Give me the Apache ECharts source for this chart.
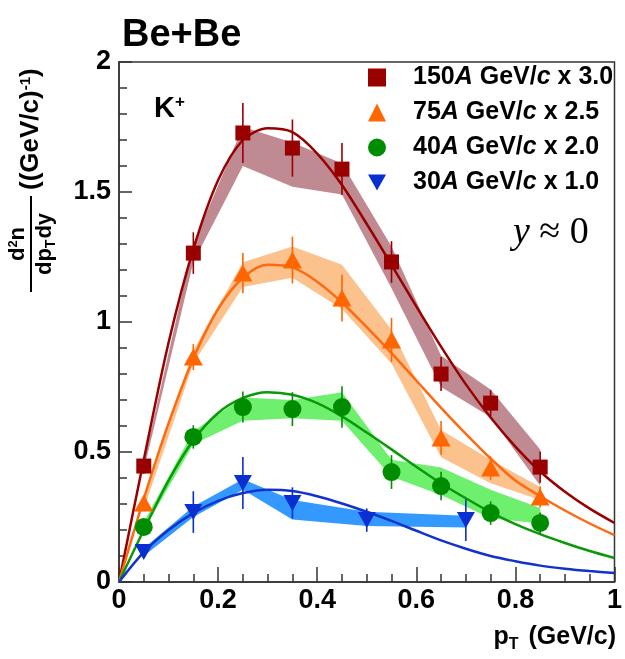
<!DOCTYPE html>
<html><head><meta charset="utf-8">
<script src="https://cdn.jsdelivr.net/npm/echarts@6/dist/echarts.min.js"></script>
<style>html,body{margin:0;padding:0;background:#fff}#c{width:625px;height:659px}</style>
</head><body><div id="c"></div>
<script>
// ---- data ----
const xPts = [0.05, 0.15, 0.25, 0.35, 0.45, 0.55, 0.65, 0.75, 0.85];
const xPts30 = [0.05, 0.15, 0.25, 0.35, 0.5, 0.7];

const y150 = [0.446, 1.265, 1.727, 1.669, 1.588, 1.231, 0.80, 0.688, 0.442];
const err150 = [0.03, 0.08, 0.115, 0.11, 0.10, 0.08, 0.065, 0.05, 0.06];
const sysLo150 = [0.43, 1.23, 1.60, 1.52, 1.49, 1.13, 0.75, 0.635, 0.37];
const sysHi150 = [0.46, 1.30, 1.75, 1.69, 1.61, 1.29, 0.87, 0.74, 0.51];

const y75 = [0.304, 0.865, 1.188, 1.238, 1.092, 0.931, 0.554, 0.438, 0.327];
const err75 = [0.02, 0.05, 0.077, 0.09, 0.09, 0.085, 0.065, 0.045, 0.04];
const sysLo75 = [0.28, 0.84, 1.135, 1.17, 1.05, 0.84, 0.48, 0.38, 0.315];
const sysHi75 = [0.32, 0.89, 1.23, 1.29, 1.22, 0.97, 0.585, 0.47, 0.365];

const y40 = [0.212, 0.558, 0.673, 0.665, 0.673, 0.423, 0.369, 0.265, 0.227];
const err40 = [0.02, 0.045, 0.06, 0.065, 0.08, 0.065, 0.055, 0.045, 0.04];
const sysLo40 = [0.20, 0.53, 0.62, 0.63, 0.62, 0.405, 0.335, 0.245, 0.225];
const sysHi40 = [0.23, 0.58, 0.71, 0.70, 0.73, 0.47, 0.44, 0.355, 0.285];

const y30 = [0.115, 0.269, 0.381, 0.304, 0.238, 0.238];
const err30 = [0.02, 0.08, 0.10, 0.06, 0.045, 0.08];
const sysLo30 = [0.10, 0.25, 0.355, 0.24, 0.215, 0.21];
const sysHi30 = [0.13, 0.29, 0.395, 0.315, 0.27, 0.255];

const xFit = [0, 0.05, 0.1, 0.15, 0.2, 0.25, 0.3, 0.35, 0.4, 0.45, 0.5, 0.55, 0.6, 0.65, 0.7, 0.75, 0.8, 0.85, 0.9, 0.95, 1.0];
const fit150 = [0, 0.47, 0.92, 1.28, 1.545, 1.70, 1.745, 1.73, 1.648, 1.527, 1.377, 1.22, 1.06, 0.905, 0.76, 0.633, 0.521, 0.425, 0.347, 0.282, 0.227];
const fit75 = [0, 0.32, 0.61, 0.86, 1.05, 1.17, 1.22, 1.21, 1.155, 1.075, 0.98, 0.88, 0.775, 0.67, 0.57, 0.475, 0.39, 0.33, 0.275, 0.225, 0.18];
const fit40 = [0, 0.20, 0.39, 0.545, 0.65, 0.708, 0.73, 0.72, 0.688, 0.637, 0.575, 0.51, 0.443, 0.379, 0.322, 0.268, 0.223, 0.184, 0.15, 0.119, 0.092];
const fit30 = [0, 0.115, 0.20, 0.265, 0.312, 0.342, 0.355, 0.35, 0.33, 0.302, 0.27, 0.235, 0.197, 0.16, 0.128, 0.10, 0.08, 0.063, 0.051, 0.042, 0.035];

const xTickLabels = ['0', '0.2', '0.4', '0.6', '0.8', '1'];
const yTickLabels = ['0', '0.5', '1', '1.5', '2'];
const seriesNames = ['s150', 's75', 's40', 's30'];
const legendLabels = {
  s150: ['150', 'A', ' GeV/', 'c', ' x 3.0'],
  s75: ['75', 'A', ' GeV/', 'c', ' x 2.5'],
  s40: ['40', 'A', ' GeV/', 'c', ' x 2.0'],
  s30: ['30', 'A', ' GeV/', 'c', ' x 1.0']
};

// ---- styles ----
const FF = '"Liberation Sans", Arial, Helvetica, sans-serif';
const SERIF = '"Liberation Serif", "DejaVu Serif", serif';
const C = {
  s150: {mark: '#990000', line: '#990000', band: '#c08a92'},
  s75: {mark: '#ff6600', line: '#ff6a10', band: '#fcc28e'},
  s40: {mark: '#008c00', line: '#099909', band: '#6ef06e'},
  s30: {mark: '#0a2fd0', line: '#1133cc', band: '#3399ff'}
};
const DOWN_TRI = 'path://M0,0 L10,0 L5,9 Z';

function bandSeries(xs, lo, hi, color) {
  return {
    type: 'custom', coordinateSystem: 'cartesian2d', silent: true, z: 1, clip: true,
    data: xs.map((x, i) => [x, lo[i], hi[i]]),
    encode: {x: 0, y: [1, 2]},
    renderItem: (params, api) => {
      if (params.dataIndex !== 0) return null;
      const pts = [];
      for (let i = 0; i < xs.length; i++) pts.push(api.coord([xs[i], hi[i]]));
      for (let i = xs.length - 1; i >= 0; i--) pts.push(api.coord([xs[i], lo[i]]));
      return {type: 'polygon', shape: {points: pts}, style: {fill: color}};
    }
  };
}
function errSeries(xs, ys, es, color) {
  return {
    type: 'custom', coordinateSystem: 'cartesian2d', silent: true, z: 4,
    data: xs.map((x, i) => [x, ys[i] - es[i], ys[i] + es[i]]),
    encode: {x: 0, y: [1, 2]},
    renderItem: (params, api) => {
      const p1 = api.coord([api.value(0), api.value(1)]);
      const p2 = api.coord([api.value(0), api.value(2)]);
      return {type: 'line', shape: {x1: p1[0], y1: p1[1], x2: p2[0], y2: p2[1]},
        style: {stroke: color, lineWidth: 1.6}};
    }
  };
}
function fitSeries(ys, color) {
  return {type: 'line', data: xFit.map((x, i) => [x, ys[i]]), smooth: 0.3,
    showSymbol: false, silent: true, z: 3, lineStyle: {color: color, width: 2.5}};
}
function markSeries(name, xs, ys, symbol, size, color, z) {
  return {type: 'scatter', name: name, data: xs.map((x, i) => [x, ys[i]]), symbol: symbol,
    symbolSize: size, itemStyle: {color: color, opacity: 1}, z: z || 5, silent: true};
}

const series = [
  bandSeries(xPts, sysLo150, sysHi150, C.s150.band),
  bandSeries(xPts, sysLo75, sysHi75, C.s75.band),
  bandSeries(xPts, sysLo40, sysHi40, C.s40.band),
  bandSeries(xPts30, sysLo30, sysHi30, C.s30.band),
  fitSeries(fit150, C.s150.line),
  fitSeries(fit75, C.s75.line),
  fitSeries(fit40, C.s40.line),
  fitSeries(fit30, C.s30.line),
  errSeries(xPts, y150, err150, C.s150.mark),
  errSeries(xPts, y75, err75, C.s75.mark),
  errSeries(xPts, y40, err40, C.s40.mark),
  errSeries(xPts30, y30, err30, C.s30.mark),
  markSeries('s150', xPts, y150, 'rect', 15, C.s150.mark),
  markSeries('s75', xPts, y75, 'triangle', [19, 17], C.s75.mark),
  markSeries('s40', xPts, y40, 'circle', 18, C.s40.mark),
  markSeries('s30', xPts30, y30, DOWN_TRI, [18, 16], C.s30.mark)
];

const axisColor = '#333';
const chart = echarts.init(document.getElementById('c'), null, {renderer: 'canvas'});
chart.setOption({
  animation: false,
  backgroundColor: '#fff',
  grid: {left: 119, right: 8, top: 62, bottom: 77, show: true, borderColor: axisColor, borderWidth: 1.5, containLabel: false},
  xAxis: {
    type: 'value', min: 0, max: 1, interval: 0.2,
    axisLine: {show: true, onZero: false, lineStyle: {color: axisColor, width: 1.5}},
    axisTick: {show: true, inside: true, length: 15, lineStyle: {color: axisColor, width: 1.5}},
    minorTick: {show: true, splitNumber: 4, length: 8, lineStyle: {color: axisColor, width: 1.5}},
    splitLine: {show: false},
    axisLabel: {color: '#000', fontSize: 27, fontWeight: 'bold', fontFamily: FF, margin: 5,
      formatter: v => xTickLabels[Math.round(v / 0.2)]}
  },
  yAxis: {
    type: 'value', min: 0, max: 2, interval: 0.5,
    axisLine: {show: true, onZero: false, lineStyle: {color: axisColor, width: 1.5}},
    axisTick: {show: true, inside: true, length: 13, lineStyle: {color: axisColor, width: 1.5}},
    minorTick: {show: true, splitNumber: 5, length: 8, lineStyle: {color: axisColor, width: 1.5}},
    splitLine: {show: false},
    axisLabel: {color: '#000', fontSize: 27, fontWeight: 'bold', fontFamily: FF, margin: 8,
      formatter: v => yTickLabels[Math.round(v / 0.5)]}
  },
  legend: {
    data: seriesNames, orient: 'vertical', left: 363, top: 60, itemWidth: 18, itemHeight: 18,
    itemGap: 10, selectedMode: false,
    textStyle: {color: '#000', fontSize: 25, fontWeight: 'bold', fontFamily: FF, lineHeight: 24,
      rich: {
        it: {fontStyle: 'italic', fontWeight: 'bold', fontSize: 25, fontFamily: FF, color: '#000', lineHeight: 24},
        n: {fontWeight: 'bold', fontSize: 25, fontFamily: FF, color: '#000', lineHeight: 24},
        sp: {width: 22, lineHeight: 24}
      }},
    formatter: name => {
      const p = legendLabels[name];
      return '{sp| }{n|' + p[0] + '}{it|' + p[1] + '}{n|' + p[2] + '}{it|' + p[3] + '}{n|' + p[4] + '}';
    }
  },
  graphic: [
    {type: 'text', left: 122, top: 17, style: {text: 'Be+Be', font: 'bold 38px ' + FF, fill: '#000'}},
    {type: 'text', x: 154, y: 94, style: {text: 'K{sup|+}', font: 'bold 29px ' + FF, fill: '#000',
      rich: {sup: {fontSize: 17, fontWeight: 'bold', fontFamily: FF, verticalAlign: 'top', padding: [0, 0, 11, 0]}}}},
    {type: 'text', x: 513, y: 214, style: {text: '{i|y} ≈ 0', font: '38px ' + SERIF, fill: '#000',
      rich: {i: {fontStyle: 'italic', fontSize: 38, fontFamily: SERIF}}}},
    {type: 'text', x: 616, y: 621, style: {text: 'p{sub|T} (GeV/c)', font: 'bold 25px ' + FF, fill: '#000',
      align: 'right', textAlign: 'right',
      rich: {sub: {fontSize: 16, fontWeight: 'bold', fontFamily: FF, verticalAlign: 'bottom', padding: [16, 3, 0, 0]}}}},
    {type: 'group', x: 31, y: 292, rotation: Math.PI / 2, children: [
      {type: 'line', shape: {x1: 0, y1: 0, x2: 96, y2: 0}, style: {stroke: '#000', lineWidth: 2}},
      {type: 'text', x: 48, y: -2, style: {text: 'd{sup|2}n', font: 'bold 22px ' + FF, fill: '#000',
        align: 'center', verticalAlign: 'bottom', textAlign: 'center', textVerticalAlign: 'bottom',
        rich: {sup: {fontSize: 13, fontWeight: 'bold', fontFamily: FF, verticalAlign: 'top', padding: [0, 0, 9, 0]}}}},
      {type: 'text', x: 48, y: 1, style: {text: 'dp{sub|T}dy', font: 'bold 22px ' + FF, fill: '#000',
        align: 'center', verticalAlign: 'top', textAlign: 'center', textVerticalAlign: 'top',
        rich: {sub: {fontSize: 14, fontWeight: 'bold', fontFamily: FF, verticalAlign: 'bottom', padding: [12, 1, 0, 0]}}}},
      {type: 'text', x: 102, y: 0, style: {text: '((GeV/c){sup|-1})', font: 'bold 26px ' + FF, fill: '#000',
        align: 'left', verticalAlign: 'middle', textAlign: 'left', textVerticalAlign: 'middle',
        rich: {sup: {fontSize: 15, fontWeight: 'bold', fontFamily: FF, verticalAlign: 'top', padding: [0, 0, 11, 0]}}}}
    ]}
  ],
  series: series
});
</script></body></html>
